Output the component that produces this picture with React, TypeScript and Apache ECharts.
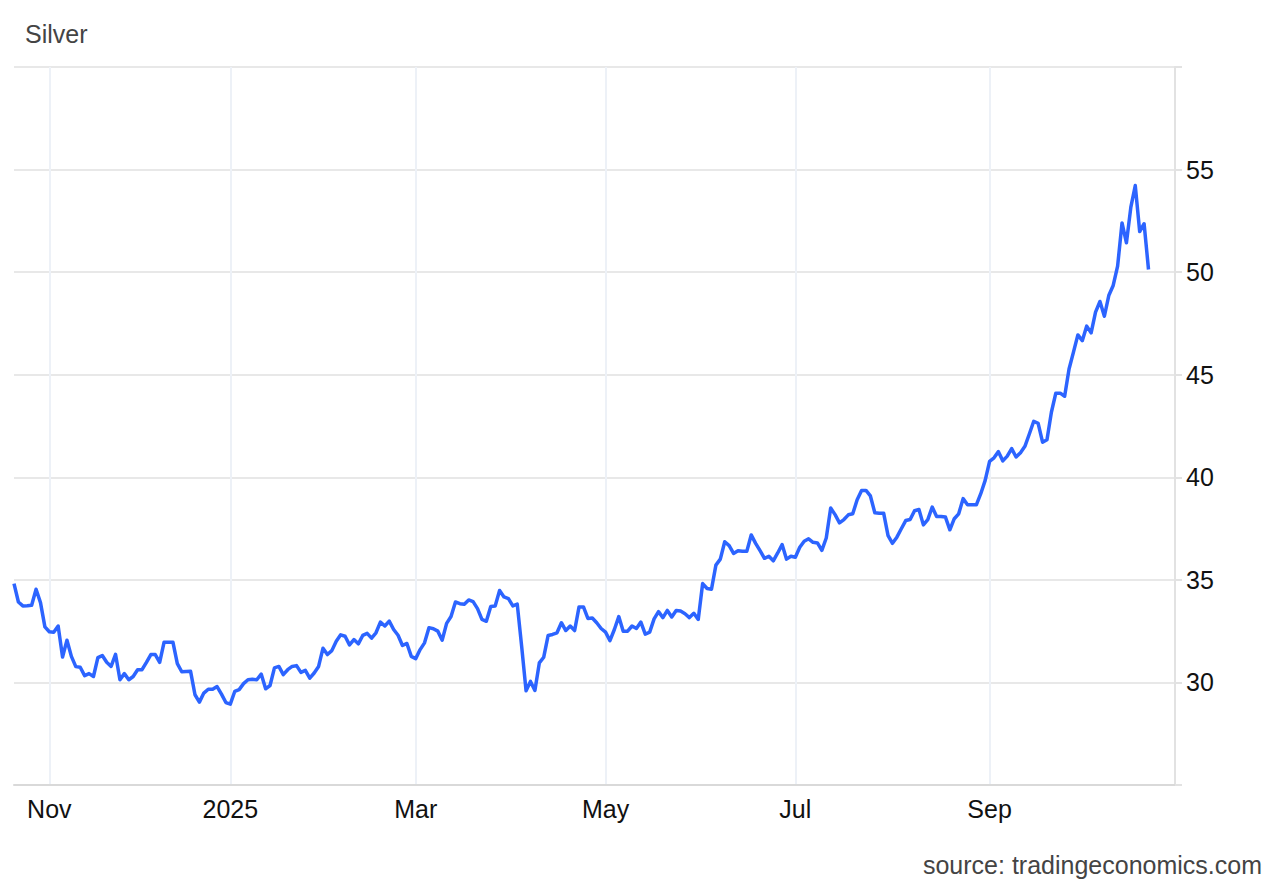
import React, { useEffect, useRef } from "react";
import * as echarts from "echarts";

// Daily silver prices (USD/oz), grouped by the month labels on the axis
const oct2024 = [34.82, 33.92, 33.73, 33.74, 33.76, 34.54, 33.89, 32.71];
const novDec2024 = [
  32.47, 32.45, 32.75, 31.24, 32.06, 31.27, 30.77, 30.74, 30.33, 30.43,
  30.29, 31.21, 31.31, 30.98, 30.78, 31.37, 30.13, 30.43, 30.13, 30.29,
  30.62, 30.62, 30.98, 31.36, 31.36, 30.98, 31.96, 31.96, 31.96, 30.92,
  30.52, 30.53, 30.54, 29.4, 29.04, 29.48, 29.67, 29.67, 29.8, 29.43, 29.02,
];
const janFeb2025 = [
  28.94, 29.56, 29.65, 29.94, 30.13, 30.15, 30.13, 30.41, 29.69, 29.85,
  30.71, 30.78, 30.38, 30.62, 30.78, 30.82, 30.49, 30.59, 30.21, 30.46,
  30.78, 31.67, 31.36, 31.55, 32.01, 32.32, 32.25, 31.83, 32.09, 31.88,
  32.29, 32.39, 32.16, 32.42, 32.94, 32.75, 32.99, 32.58, 32.3, 31.8,
  31.9, 31.27,
];
const marApr2025 = [
  31.16, 31.6, 31.93, 32.67, 32.62, 32.5, 32.06, 32.88, 33.21, 33.92,
  33.84, 33.81, 34.02, 33.94, 33.6, 33.07, 32.98, 33.7, 33.73, 34.48,
  34.17, 34.09, 33.73, 33.82, 31.76, 29.59, 30.05, 29.61, 30.95, 31.23,
  32.29, 32.34, 32.42, 32.91, 32.53, 32.75, 32.53, 33.68, 33.68, 33.12,
  33.14, 32.91, 32.63,
];
const mayJun2025 = [
  32.45, 32.04, 32.58, 33.21, 32.5, 32.5, 32.75, 32.63, 32.94, 32.35,
  32.45, 33.1, 33.45, 33.16, 33.51, 33.19, 33.51, 33.48, 33.35, 33.16,
  33.37, 33.07, 34.82, 34.58, 34.54, 35.72, 36.01, 36.86, 36.67, 36.29,
  36.42, 36.39, 36.39, 37.19, 36.78, 36.42, 36.05, 36.15, 35.93, 36.31,
  36.72, 36.01, 36.15,
];
const julAug2025 = [
  36.1, 36.59, 36.88, 37.0, 36.83, 36.8, 36.44, 37.04, 38.5, 38.18,
  37.78, 37.94, 38.17, 38.22, 38.91, 39.36, 39.36, 39.09, 38.27, 38.25,
  38.25, 37.16, 36.78, 37.08, 37.49, 37.89, 37.94, 38.37, 38.43, 37.68,
  37.94, 38.55, 38.09, 38.09, 38.06, 37.44, 37.98, 38.22, 38.96, 38.66,
  38.66, 38.66, 39.2, 39.85,
];
const sepOct2025 = [
  40.78, 40.95, 41.25, 40.8, 41.03, 41.4, 40.99, 41.2, 41.51, 42.11,
  42.73, 42.63, 41.71, 41.83, 43.17, 44.1, 44.1, 43.95, 45.28, 46.1,
  46.94, 46.66, 47.37, 47.04, 48.05, 48.57, 47.85, 48.86, 49.35, 50.29,
  52.4, 51.43, 53.17, 54.22, 51.98, 52.36, 50.13,
];

const segmentLabels = ["", "Nov", "2025", "Mar", "May", "Jul", "Sep"];
const segmentValues = [oct2024, novDec2024, janFeb2025, marApr2025, mayJun2025, julAug2025, sepOct2025];
// empty trading days kept at the right end of the time axis
const trailingBlankDays = 6;

const yTicksShown = [30, 35, 40, 45, 50, 55];

const FONT = '"Liberation Sans", Arial, Helvetica, sans-serif';

export default function App() {
  const ref = useRef<HTMLDivElement>(null);

  useEffect(() => {
    if (!ref.current) return;
    const chart = echarts.init(ref.current, null, { renderer: "svg" });

    const categories: string[] = [];
    const values: (number | null)[] = [];
    const tickLabels = new Map<number, string>();
    segmentValues.forEach((vals, s) => {
      vals.forEach((v, i) => {
        if (i === 0 && segmentLabels[s]) tickLabels.set(categories.length, segmentLabels[s]);
        categories.push(`${s}-${i}`);
        values.push(v);
      });
    });
    for (let i = 0; i < trailingBlankDays; i++) {
      categories.push(`blank-${i}`);
      values.push(null);
    }
    const isTick = (idx: number) => tickLabels.has(idx);

    chart.setOption({
      animation: false,
      backgroundColor: "#ffffff",
      grid: { left: 14, right: 105, top: 67, bottom: 102, containLabel: false },
      xAxis: {
        type: "category",
        data: categories,
        boundaryGap: false,
        axisLine: { show: true, lineStyle: { color: "#d9d9d9", width: 2 } },
        axisTick: { show: false },
        axisLabel: {
          interval: (idx: number) => isTick(idx),
          formatter: (_v: string, idx: number) => tickLabels.get(idx) ?? "",
          color: "#111111",
          fontSize: 25,
          fontFamily: FONT,
          margin: 11,
        },
        splitLine: {
          show: true,
          interval: (idx: number) => isTick(idx),
          lineStyle: { color: "#edf1f7", width: 2 },
        },
      },
      yAxis: {
        type: "value",
        position: "right",
        min: 25,
        max: 60,
        interval: 5,
        axisLine: { show: true, lineStyle: { color: "#e2e2e2", width: 2 } },
        axisTick: { show: true, length: 7, lineStyle: { color: "#e2e2e2", width: 2 } },
        axisLabel: {
          formatter: (v: number) => (yTicksShown.includes(v) ? String(v) : ""),
          color: "#111111",
          fontSize: 25,
          fontFamily: FONT,
          margin: 11,
        },
        splitLine: { show: true, lineStyle: { color: "#e8e8e8", width: 2 } },
      },
      series: [
        {
          type: "line",
          data: values,
          showSymbol: false,
          symbol: "none",
          lineStyle: { color: "#2c64ff", width: 3.5, join: "round" },
        },
      ],
      graphic: [
        {
          type: "text",
          left: 25,
          top: 21,
          style: { text: "Silver", fill: "#444444", font: `25px ${FONT}` },
        },
        {
          type: "text",
          right: 18,
          top: 852,
          style: { text: "source: tradingeconomics.com", fill: "#444444", font: `25px ${FONT}` },
        },
      ],
    });

    return () => chart.dispose();
  }, []);

  return (
    <div
      ref={ref}
      style={{ position: "absolute", left: 0, top: 0, width: 1280, height: 887 }}
    />
  );
}
